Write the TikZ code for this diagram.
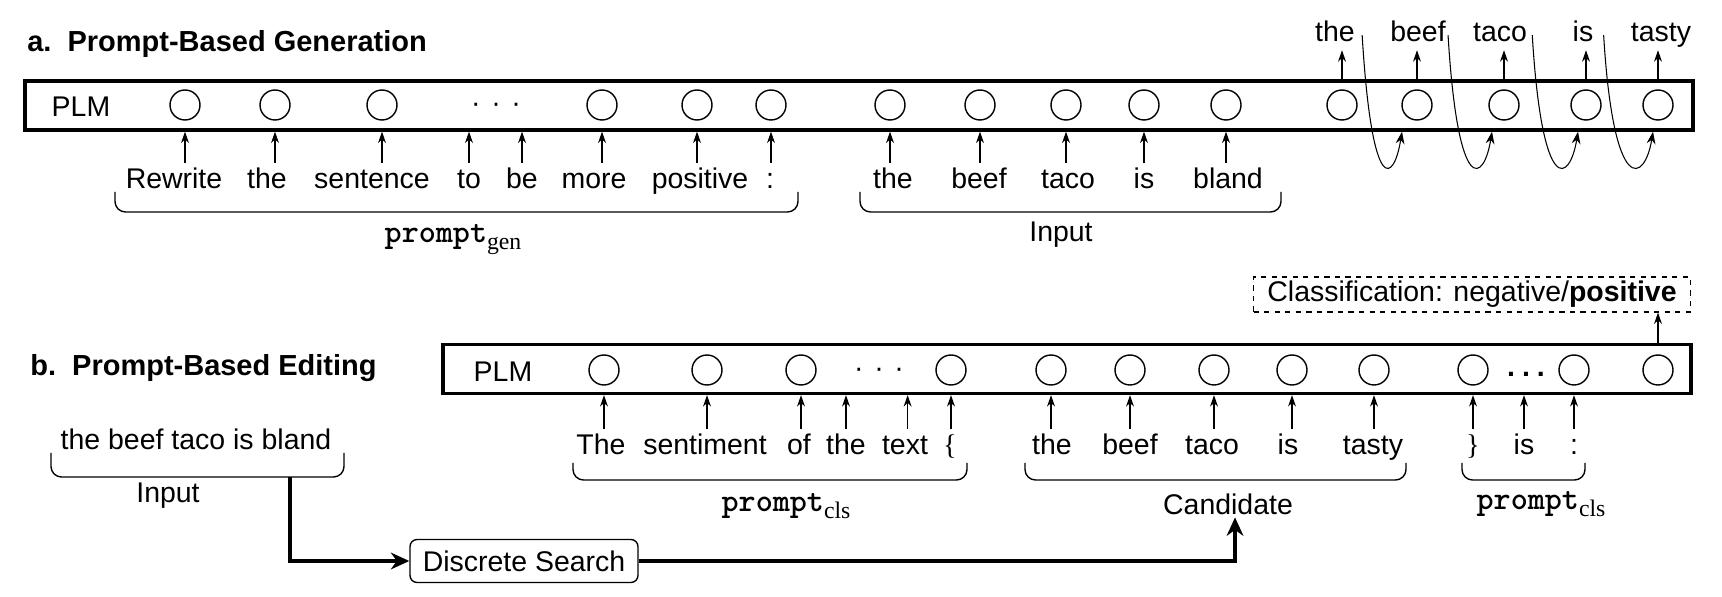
\documentclass[tikz,border=0pt]{standalone}
\usepackage{fontspec}
\setmainfont{Liberation Sans}
\newfontfamily\pmono{lmmonolt10-bold.otf}
\newfontfamily\subfont{Liberation Serif}
\usepackage{tikz}
\usetikzlibrary{positioning,arrows.meta,calc}

\newcommand{\promptlbl}[1]{{\fontsize{18.5}{20}\selectfont\pmono prompt}\raisebox{-3.5pt}{\fontsize{13.5}{15}\selectfont\subfont #1}}

\begin{document}
\begin{tikzpicture}[
    x=0.02cm, y=-0.02cm,
    font=\fontsize{16.2}{19}\selectfont,
    plm/.style={draw, line width=1.9pt, inner sep=0pt},
    emb/.style={draw, circle, line width=0.8pt, minimum size=0.6cm, inner sep=0pt},
    wd/.style={anchor=base, inner xsep=0pt, inner ysep=0pt, text height=14.7pt, text depth=4.5pt},
    lbl/.style={anchor=base, inner sep=0pt},
    ttl/.style={anchor=base west, inner sep=0pt, font=\fontsize{16.5}{19}\selectfont\bfseries},
    arr/.style={-{Stealth[length=6.5pt, width=4.5pt]}, line width=0.6pt},
    crv/.style={-{Stealth[length=7pt, width=5pt]}, line width=0.6pt},
    thk/.style={-{Stealth[length=10.5pt, width=9.5pt]}, line width=1.8pt},
    brc/.style={line width=0.8pt, rounded corners=6pt},
  ]
    \useasboundingbox (0,0) rectangle (1722,597);

    % ---- a. generation
    \node[ttl] (ttla) at (27,52) {a.\ \ Prompt-Based Generation};
    \node[plm, minimum width=33.36cm, minimum height=0.98cm] (plma) at (859,105.5) {};
    \node[lbl] (plmla) at (81,117) {PLM};

    % token slots
    \node[emb] (ca1)  at (185,105)  {};
    \node[emb] (ca2)  at (275,105)  {};
    \node[emb] (ca3)  at (382,105)  {};
    \node[lbl] (dotsa) at (496,113) {\textperiodcentered\hspace{6pt}\textperiodcentered\hspace{6pt}\textperiodcentered};
    \node[emb] (ca4)  at (602,105)  {};
    \node[emb] (ca5)  at (697,105)  {};
    \node[emb] (ca6)  at (771,105)  {};
    \node[emb] (ca7)  at (890,105)  {};
    \node[emb] (ca8)  at (980,105)  {};
    \node[emb] (ca9)  at (1066,105) {};
    \node[emb] (ca10) at (1144,105) {};
    \node[emb] (ca11) at (1226,105) {};
    \node[emb] (cg1)  at (1342,105) {};
    \node[emb] (cg2)  at (1417,105) {};
    \node[emb] (cg3)  at (1504,105) {};
    \node[emb] (cg4)  at (1586,105) {};
    \node[emb] (cg5)  at (1658,105) {};

    % prompt words
    \node[wd] (wa1) at (174,189) {Rewrite};
    \node[wd] (wa2) at (267,189) {the};
    \node[wd] (wa3) at (372,189) {sentence};
    \node[wd] (wa4) at (469,189) {to};
    \node[wd] (wa5) at (522,189) {be};
    \node[wd] (wa6) at (594,189) {more};
    \node[wd] (wa7) at (700,189) {positive};
    \node[wd] (wa8) at (770,189) {:};

    % input words
    \node[wd] (wi1) at (893,189)  {the};
    \node[wd] (wi2) at (979,189)  {beef};
    \node[wd] (wi3) at (1068,189) {taco};
    \node[wd] (wi4) at (1144,189) {is};
    \node[wd] (wi5) at (1228,189) {bland};

    % generated words
    \node[wd] (wo1) at (1335,42) {the};
    \node[wd] (wo2) at (1418,42) {beef};
    \node[wd] (wo3) at (1500,42) {taco};
    \node[wd] (wo4) at (1583,42) {is};
    \node[wd] (wo5) at (1661,42) {tasty};

    % arrows into the PLM
    \draw[arr] (ca1 |- wa1.north) -- (ca1 |- plma.south);
    \draw[arr] (ca2 |- wa2.north) -- (ca2 |- plma.south);
    \draw[arr] (ca3 |- wa3.north) -- (ca3 |- plma.south);
    \draw[arr] (wa4.north) -- (wa4 |- plma.south);
    \draw[arr] (wa5.north) -- (wa5 |- plma.south);
    \draw[arr] (ca4 |- wa6.north) -- (ca4 |- plma.south);
    \draw[arr] (ca5 |- wa7.north) -- (ca5 |- plma.south);
    \draw[arr] (ca6 |- wa8.north) -- (ca6 |- plma.south);
    \draw[arr] (ca7 |- wi1.north) -- (ca7 |- plma.south);
    \draw[arr] (ca8 |- wi2.north) -- (ca8 |- plma.south);
    \draw[arr] (ca9 |- wi3.north) -- (ca9 |- plma.south);
    \draw[arr] (ca10 |- wi4.north) -- (ca10 |- plma.south);
    \draw[arr] (ca11 |- wi5.north) -- (ca11 |- plma.south);

    % arrows out of the PLM
    \draw[arr] (cg1 |- plma.north) -- (cg1 |- wo1.south);
    \draw[arr] (cg2 |- plma.north) -- (cg2 |- wo2.south);
    \draw[arr] (cg3 |- plma.north) -- (cg3 |- wo3.south);
    \draw[arr] (cg4 |- plma.north) -- (cg4 |- wo4.south);
    \draw[arr] (cg5 |- plma.north) -- (cg5 |- wo5.south);

    % feed back
    \draw[crv] ($(wo1.east)+(7,2)$) .. controls +(10,165) and +(-8,50) .. ($(cg2 |- plma.south)+(-15,0)$);
    \draw[crv] ($(wo2.east)+(2,2)$) .. controls +(10,165) and +(-8,50) .. ($(cg3 |- plma.south)+(-12,0)$);
    \draw[crv] ($(wo3.east)+(5,2)$) .. controls +(10,165) and +(-8,50) .. ($(cg4 |- plma.south)+(-8,0)$);
    \draw[crv] ($(wo4.east)+(10,2)$) .. controls +(10,165) and +(-8,50) .. ($(cg5 |- plma.south)+(-5,0)$);

    % braces
    \draw[brc] (115,192) |- (456,212) -| (798,192);
    \draw[brc] (860,192) |- (1070,212) -| (1281,192);
    \node[lbl] (pgen) at (453,243) {\promptlbl{gen}};
    \node[lbl] (inpa) at (1061,242) {Input};

    % ---- b. editing
    \node[ttl] (ttlb) at (30,376) {b.\ \ Prompt-Based Editing};
    \node[plm, minimum width=24.96cm, minimum height=0.98cm] (plmb) at (1067,369) {};
    \node[lbl] (plmlb) at (503,382) {PLM};

    \node[emb] (cb1)  at (604,370)  {};
    \node[emb] (cb2)  at (707,370)  {};
    \node[emb] (cb3)  at (801,370)  {};
    \node[lbl] (dotsb) at (879,378) {\textperiodcentered\hspace{6pt}\textperiodcentered\hspace{6pt}\textperiodcentered};
    \node[emb] (cb4)  at (951,370)  {};
    \node[emb] (cb5)  at (1051,370) {};
    \node[emb] (cb6)  at (1130,370) {};
    \node[emb] (cb7)  at (1214,370) {};
    \node[emb] (cb8)  at (1292,370) {};
    \node[emb] (cb9)  at (1374,370) {};
    \node[emb] (cb10) at (1473,370) {};
    \node[lbl] (dotsc) at (1526,377) {\textbf{.\hspace{4pt}.\hspace{4pt}.}};
    \node[emb] (cb11) at (1574,370) {};
    \node[emb] (cb12) at (1658,370) {};

    \node[wd] (wb1) at (601,455) {The};
    \node[wd] (wb2) at (705,455) {sentiment};
    \node[wd] (wb3) at (799,455) {of};
    \node[wd] (wb4) at (846,455) {the};
    \node[wd] (wb5) at (905,455) {text};
    \node[wd] (wb6) at (950,455) {\subfont\{};
    \node[wd] (wc1) at (1052,455) {the};
    \node[wd] (wc2) at (1130,455) {beef};
    \node[wd] (wc3) at (1212,455) {taco};
    \node[wd] (wc4) at (1288,455) {is};
    \node[wd] (wc5) at (1373,455) {tasty};
    \node[wd] (ws1) at (1473,455) {\subfont\}};
    \node[wd] (ws2) at (1524,455) {is};
    \node[wd] (ws3) at (1574,455) {:};

    \draw[arr] (cb1 |- wb1.north) -- (cb1 |- plmb.south);
    \draw[arr] (cb2 |- wb2.north) -- (cb2 |- plmb.south);
    \draw[arr] (cb3 |- wb3.north) -- (cb3 |- plmb.south);
    \draw[arr] (wb4.north) -- (wb4 |- plmb.south);
    \draw[arr] ([xshift=1.5pt]wb5.north) -- ([xshift=1.5pt]wb5.north |- plmb.south);
    \draw[arr] (cb4 |- wb6.north) -- (cb4 |- plmb.south);
    \draw[arr] (cb5 |- wc1.north) -- (cb5 |- plmb.south);
    \draw[arr] (cb6 |- wc2.north) -- (cb6 |- plmb.south);
    \draw[arr] (cb7 |- wc3.north) -- (cb7 |- plmb.south);
    \draw[arr] (cb8 |- wc4.north) -- (cb8 |- plmb.south);
    \draw[arr] (cb9 |- wc5.north) -- (cb9 |- plmb.south);
    \draw[arr] (cb10 |- ws1.north) -- (cb10 |- plmb.south);
    \draw[arr] (ws2.north) -- (ws2 |- plmb.south);
    \draw[arr] (cb11 |- ws3.north) -- (cb11 |- plmb.south);

    % classification output
    \node[draw, dashed, line width=0.7pt, minimum width=8.74cm, minimum height=0.7cm, inner sep=0pt]
        (cls) at (1472,294.5) {Classification: negative/\textbf{positive}};
    \draw[arr] (cb12 |- plmb.north) -- (cb12 |- cls.south);

    \draw[brc] (573,463) |- (770,480) -| (967,463);
    \draw[brc] (1025,463) |- (1215,480) -| (1406,463);
    \draw[brc] (1462,463) |- (1523,480) -| (1585,463);
    \node[lbl] (pcls1) at (786,512) {\promptlbl{cls}};
    \node[lbl] (cand)  at (1228,515) {Candidate};
    \node[lbl] (pcls2) at (1541,510) {\promptlbl{cls}};

    % input and search
    \node[lbl] (inb) at (196,450) {the beef taco is bland};
    \draw[brc] (51,453) |- (197,477) -| (344,453);
    \node[lbl] (inpb) at (168,503) {Input};
    \coordinate (inbr) at (290,477);
    \node[draw, rounded corners=4pt, line width=0.8pt, minimum width=4.56cm, minimum height=0.86cm]
        (srch) at (524,561) {Discrete Search};
    \draw[thk] (inbr) |- (srch.west);
    \draw[thk] (srch.east) -| ([xshift=4pt, yshift=-1pt]cand.south);
\end{tikzpicture}
\end{document}
